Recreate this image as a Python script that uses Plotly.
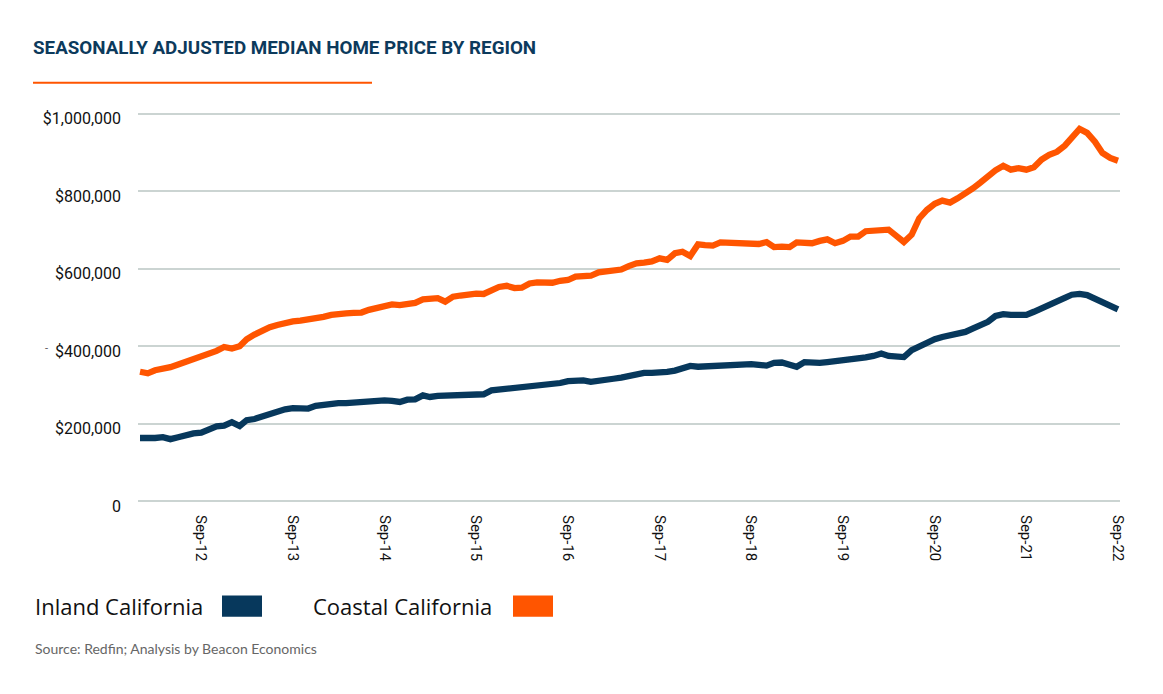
import pandas as pd
import plotly.graph_objects as go

# ---- data (monthly, Jan 2012 - Sep 2022), values in US$ ----
months = pd.date_range("2012-01-01", "2022-09-01", freq="MS")

coastal_k = [
    334, 330, 338, 341, 346, 353, 360, 366, 372, 382, 388, 398,
    394, 400, 418, 430, 440, 449, 455, 461, 464, 466, 468, 474,
    476, 481, 484, 485, 486, 487, 494, 500, 502, 508, 506, 508,
    512, 521, 521, 524, 515, 528, 531, 535, 536, 535, 546, 553,
    556, 550, 551, 562, 565, 565, 564, 569, 571, 580, 581, 582,
    591, 593, 595, 598, 607, 614, 616, 619, 627, 623, 640, 644,
    633, 663, 661, 660, 668, 668, 664, 666, 664, 664, 669, 656,
    657, 656, 668, 668, 666, 672, 676, 666, 672, 683, 683, 697,
    698, 699, 701, 685, 669, 688, 730, 752, 768, 776, 771, 782,
    794, 808, 822, 840, 854, 866, 856, 860, 856, 862, 882, 894,
    902, 918, 940, 961, 951, 928, 899, 886, 879,
]
inland_k = [
    163, 162, 163, 165, 160, 165, 171, 175, 177, 186, 193, 195,
    204, 194, 209, 212, 219, 226, 231, 237, 240, 239, 239, 246,
    249, 252, 253, 253, 255, 256, 257, 258, 260, 259, 256, 262,
    263, 273, 269, 272, 273, 275, 277, 278, 279, 276, 286, 288,
    289, 292, 294, 297, 299, 301, 303, 305, 310, 312, 312, 308,
    312, 313, 316, 319, 323, 328, 331, 331, 331, 334, 337, 343,
    349, 347, 348, 350, 350, 350, 350, 353, 354, 352, 350, 357,
    358, 352, 347, 359, 357, 357, 359, 361, 364, 367, 369, 371,
    375, 381, 375, 374, 372, 390, 400, 410, 418, 424, 428, 430,
    437, 446, 454, 463, 478, 483, 481, 481, 481, 489, 497, 505,
    513, 525, 533, 535, 532, 522, 511, 504, 495,
]
coastal = [v * 1000 for v in coastal_k]
inland = [v * 1000 for v in inland_k]

y_tickvals = [0, 200000, 400000, 600000, 800000, 1000000]
y_ticktext = ["0", "$200,000", "$400,000", "$600,000", "$800,000", "$1,000,000"]
x_tickvals = pd.date_range("2012-09-01", "2022-09-01", freq="12MS")

series_names = ["Inland California", "Coastal California"]
NAVY = "#07385c"
ORANGE = "#ff5500"

# ---- layout geometry (screen pixels; page body has an 8px margin) ----
SW, SH, OFF = 1163, 694, 8
L, R, T, B = 138, 1120, 110.4, 504.6


def px(xp):
    return (xp - L) / (R - L)


def py(yp):
    return (B - yp) / (B - T)


fig = go.Figure()
fig.add_trace(go.Scatter(x=months, y=inland, mode="lines", name=series_names[0],
                         line=dict(color=NAVY, width=6.3), showlegend=False))
fig.add_trace(go.Scatter(x=months, y=coastal, mode="lines", name=series_names[1],
                         line=dict(color=ORANGE, width=6.3), showlegend=False))

fig.update_layout(
    width=SW - OFF, height=SH - OFF,
    margin=dict(l=L - OFF, r=SW - R, t=T - OFF, b=SH - B),
    paper_bgcolor="white", plot_bgcolor="white",
    font=dict(family="Roboto", color="#111111"),
)
fig.update_xaxes(
    range=[pd.Timestamp("2011-12-24"), pd.Timestamp("2022-09-09")],
    tickvals=x_tickvals, tickformat="%b-%y", tickangle=90,
    tickfont=dict(family="Roboto", size=15, color="#111111"),
    showgrid=False, zeroline=False, showline=False, ticks="",
    ticklabelstandoff=9,
)
fig.update_yaxes(
    range=[-10000, 1010000],
    tickvals=y_tickvals, ticktext=y_ticktext,
    tickfont=dict(family="Roboto", size=16, color="#111111"),
    showgrid=True, gridcolor="#cbd4d2", gridwidth=2,
    zeroline=False, showline=False, ticks="",
    ticklabelstandoff=16, ticklabelshift=5,
)

anns = [
    dict(text="<b>SEASONALLY ADJUSTED MEDIAN HOME PRICE BY REGION</b>",
         x=px(31), y=py(49), xanchor="left", yanchor="middle",
         font=dict(family="Roboto", size=18.8, color="#0c3a5c")),
    dict(text=series_names[0], x=px(33), y=py(605), xanchor="left", yanchor="middle",
         font=dict(family="Open Sans", size=22, color="#111111")),
    dict(text=series_names[1], x=px(311), y=py(605), xanchor="left", yanchor="middle",
         font=dict(family="Open Sans", size=22, color="#111111")),
    dict(text="Source: Redfin; Analysis by Beacon Economics", x=px(33), y=py(648),
         xanchor="left", yanchor="middle",
         font=dict(family="Lato", size=14, color="#666666")),
    dict(text="-", x=px(46), y=py(348), xanchor="center", yanchor="middle",
         font=dict(family="Roboto", size=11, color="#555555")),
]
for a in anns:
    a.update(xref="paper", yref="paper", showarrow=False)
fig.update_layout(annotations=anns)

shapes = [
    dict(type="line", x0=px(33), x1=px(372), y0=py(83.3), y1=py(83.3),
         line=dict(color=ORANGE, width=2)),
    dict(type="rect", x0=px(222), x1=px(262), y0=py(595), y1=py(616),
         fillcolor=NAVY, line=dict(width=0)),
    dict(type="rect", x0=px(513), x1=px(553), y0=py(595), y1=py(616),
         fillcolor=ORANGE, line=dict(width=0)),
]
for s in shapes:
    s.update(xref="paper", yref="paper")
fig.update_layout(shapes=shapes)

fig.write_html("out.html")
